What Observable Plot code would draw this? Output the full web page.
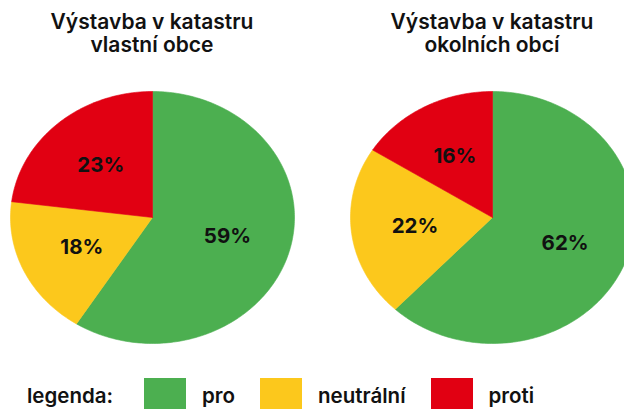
<!DOCTYPE html>
<html>
<head>
<meta charset="utf-8">
<script src="https://cdn.jsdelivr.net/npm/d3@7"></script>
<script src="https://cdn.jsdelivr.net/npm/@observablehq/plot@0.6"></script>
<style>
  html, body { margin: 0; padding: 0; background: #fff; }
  body { width: 624px; height: 409px; overflow: hidden; position: relative; font-family: Inter, "Open Sans", sans-serif; color: #111; }
  .title { position: absolute; top: 10px; width: 304px; text-align: center; font-size: 21px; font-weight: 600; line-height: 23px; }
  #chart { position: absolute; top: 80px; left: 0; }
  #legend { position: absolute; top: 378px; left: 27px; display: flex; align-items: flex-start; font-size: 20.5px; font-weight: 600; line-height: 20px; white-space: nowrap; }
  #legend .lab { margin-right: 31px; margin-top: 8px; }
  #legend .sw { width: 42px; height: 42px; margin-right: 16px; }
  #legend .txt { margin-right: 25px; margin-top: 8px; }
</style>
</head>
<body>
<div id="t0" class="title"></div>
<div id="t1" class="title"></div>
<div id="chart"></div>
<div id="legend"></div>
<script>
// ---- data ----
const categories = ["pro", "neutrální", "proti"];
const colors = ["#4caf50", "#fcc81c", "#e10012"];
const pieTitles = [["Výstavba v katastru", "vlastní obce"], ["Výstavba v katastru", "okolních obcí"]];
const vlastniObce = [59, 18, 23];
const okolniObce = [62, 22, 16];
const legendLabel = "legenda:";

// ---- layout constants ----
const GAP = 340 / 142; // distance between pie centres in radius units
const LABEL_R = 0.55;

const series = [vlastniObce, okolniObce];
const points = [];
const labels = [];
series.forEach((values, i) => {
  const rows = values.map((v, j) => ({cat: categories[j], value: v}));
  const arcs = d3.pie().sort(null).value(d => d.value)(rows);
  arcs.forEach(a => {
    const key = i + "|" + a.data.cat;
    const cx = i * GAP;
    points.push({key, cat: a.data.cat, x: cx, y: 0});
    const n = Math.max(2, Math.ceil((a.endAngle - a.startAngle) / (Math.PI / 180)));
    for (let k = 0; k <= n; k++) {
      const t = a.startAngle + (a.endAngle - a.startAngle) * k / n;
      points.push({key, cat: a.data.cat, x: cx + Math.sin(t), y: Math.cos(t)});
    }
    points.push({key, cat: a.data.cat, x: cx, y: 0});
    const m = (a.startAngle + a.endAngle) / 2;
    labels.push({x: cx + LABEL_R * Math.sin(m), y: LABEL_R * Math.cos(m), text: a.data.value + "%"});
  });
});

// titles
pieTitles.forEach((t, i) => {
  const el = document.getElementById("t" + i);
  el.innerHTML = t.join("<br>");
});
document.getElementById("t0").style.left = "0px";
document.getElementById("t1").style.left = "340px";

const chart = Plot.plot({
  width: 624,
  height: 280,
  margin: 0,
  style: {background: "transparent", fontFamily: "Inter, sans-serif"},
  x: {domain: [-1, 1], range: [10, 294], axis: null},
  y: {domain: [-1, 1], range: [263, 11], axis: null},
  color: {domain: categories, range: colors},
  marks: [
    Plot.line(points, {x: "x", y: "y", z: "key", fill: "cat", stroke: "cat", strokeWidth: 0.6, curve: "linear"}),
    Plot.text(labels, {x: "x", y: "y", text: "text", fontSize: 20.5, fontWeight: 700, fill: "#111", fontFamily: "Inter, sans-serif"})
  ]
});
document.getElementById("chart").appendChild(chart);

// legend
const lg = d3.select("#legend");
lg.append("span").attr("class", "lab").text(legendLabel);
categories.forEach((c, j) => {
  lg.append("span").attr("class", "sw").style("background", chart.scale("color").apply(c));
  lg.append("span").attr("class", "txt").text(c);
});
</script>
</body>
</html>
